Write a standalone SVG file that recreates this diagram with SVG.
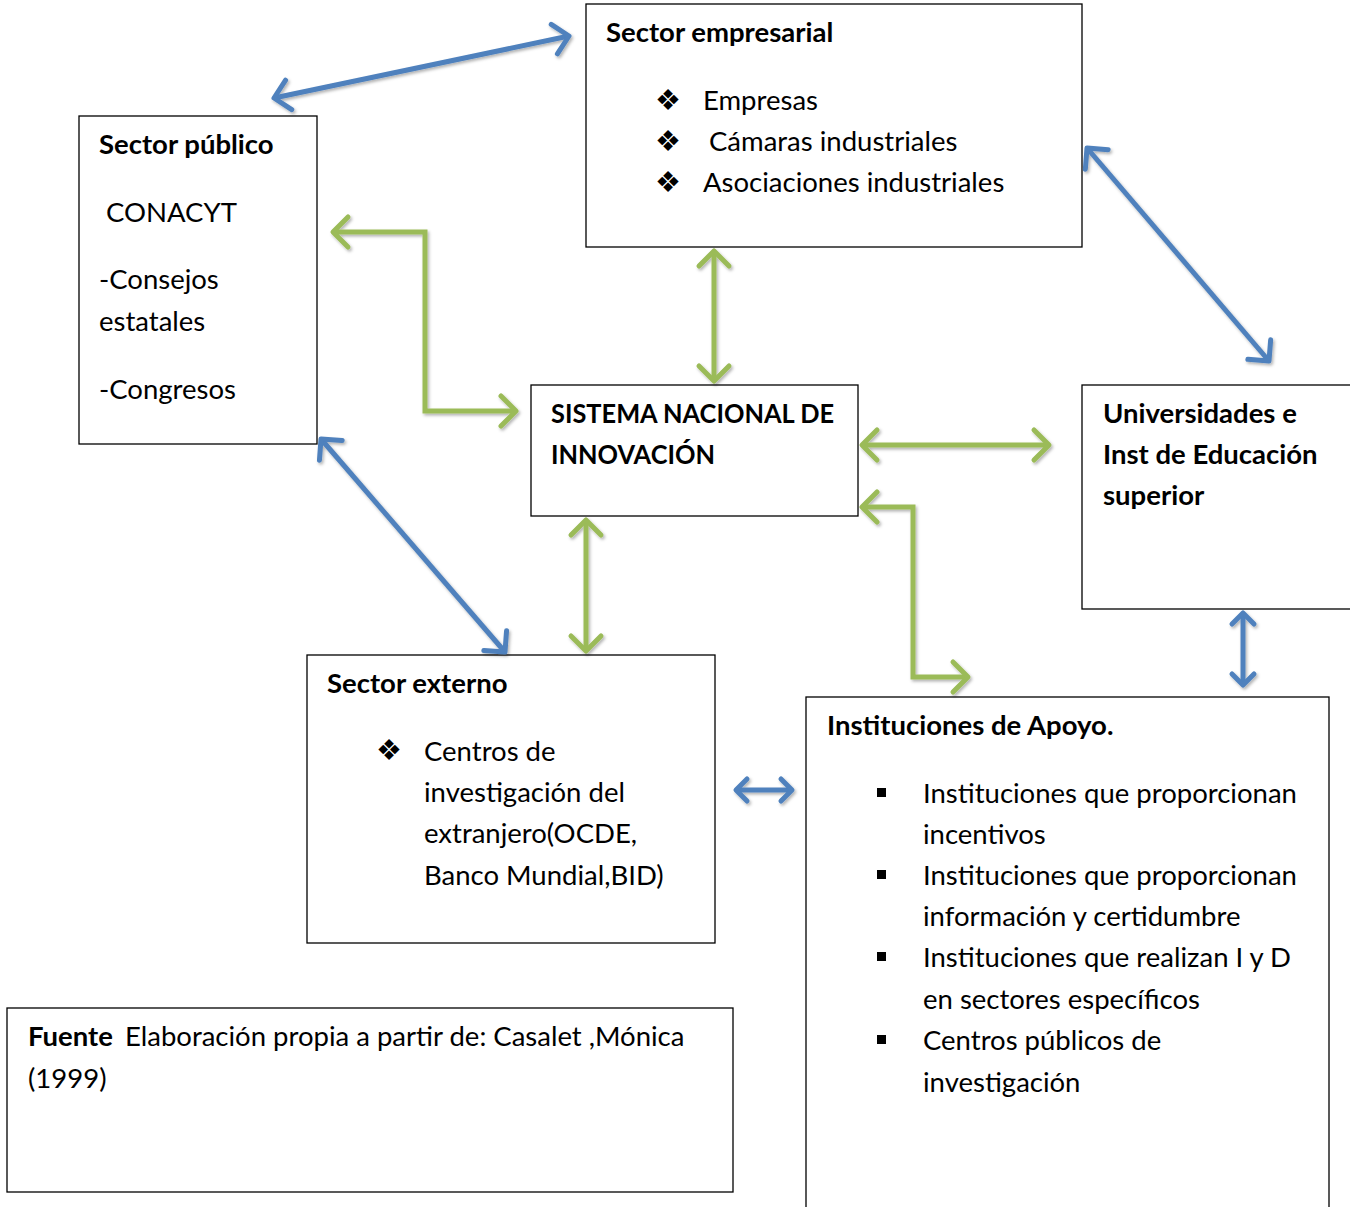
<svg xmlns="http://www.w3.org/2000/svg" width="1350" height="1207" viewBox="0 0 1350 1207">
<style>
.box{fill:#fff;stroke:#000;stroke-width:1.3}
text{font-family:Lato,"Open Sans","Liberation Sans",sans-serif;font-size:27.5px;fill:#000}
.b{font-weight:bold}
.sym{font-family:"DejaVu Sans",sans-serif;font-size:29px}
.blue{stroke:#4F81BD;stroke-width:5;fill:none;filter:url(#sh)}
.green{stroke:#9BBB59;stroke-width:5;fill:none;filter:url(#sh)}
</style>
<defs>
<filter id="sh" filterUnits="userSpaceOnUse" x="0" y="0" width="1350" height="1207">
<feDropShadow dx="1.5" dy="2" stdDeviation="1.5" flood-color="#000" flood-opacity="0.3"/>
</filter>
<marker id="hb" viewBox="-20 -20 24 40" markerWidth="24" markerHeight="40" refX="0" refY="0" markerUnits="userSpaceOnUse" orient="auto-start-reverse">
<path d="M-15,-15 L0,0 L-15,15" fill="none" stroke="#4F81BD" stroke-width="5" stroke-linecap="round" stroke-linejoin="round"/>
</marker>
<marker id="hbs" viewBox="-20 -20 24 40" markerWidth="24" markerHeight="40" refX="0" refY="0" markerUnits="userSpaceOnUse" orient="auto-start-reverse">
<path d="M-11,-11 L0,0 L-11,11" fill="none" stroke="#4F81BD" stroke-width="5" stroke-linecap="round" stroke-linejoin="round"/>
</marker>
<marker id="hg" viewBox="-20 -20 24 40" markerWidth="24" markerHeight="40" refX="0" refY="0" markerUnits="userSpaceOnUse" orient="auto-start-reverse">
<path d="M-15,-15 L0,0 L-15,15" fill="none" stroke="#9BBB59" stroke-width="5" stroke-linecap="round" stroke-linejoin="round"/>
</marker>
</defs>
<rect width="1350" height="1207" fill="#fff"/>

<g id="sector-empresarial">
<rect class="box" x="586" y="4" width="496" height="243"/>
<text class="b" x="606" y="42">Sector empresarial</text>
<text class="sym" x="655" y="110">❖</text>
<text x="703" y="110">Empresas</text>
<text class="sym" x="655" y="151">❖</text>
<text x="709" y="151">Cámaras industriales</text>
<text class="sym" x="655" y="192">❖</text>
<text x="703" y="192">Asociaciones industriales</text>
</g>

<g id="sector-publico">
<rect class="box" x="79" y="116" width="238" height="328"/>
<text class="b" x="99" y="154">Sector público</text>
<text x="106" y="222">CONACYT</text>
<text x="99" y="289">-Consejos</text>
<text x="99" y="331">estatales</text>
<text x="99" y="399">-Congresos</text>
</g>

<g id="sistema-nacional">
<rect class="box" x="531" y="385" width="327" height="131"/>
<text class="b" x="551" y="423" textLength="283" lengthAdjust="spacingAndGlyphs">SISTEMA NACIONAL DE</text>
<text class="b" x="551" y="464" textLength="164" lengthAdjust="spacingAndGlyphs">INNOVACIÓN</text>
</g>

<g id="universidades">
<rect class="box" x="1082" y="385" width="275" height="224"/>
<text class="b" x="1103" y="423">Universidades e</text>
<text class="b" x="1103" y="464">Inst de Educación</text>
<text class="b" x="1103" y="505">superior</text>
</g>

<g id="sector-externo">
<rect class="box" x="307" y="655" width="408" height="288"/>
<text class="b" x="327" y="693">Sector externo</text>
<text class="sym" x="376" y="760">❖</text>
<text x="424" y="761">Centros de</text>
<text x="424" y="802">investigación del</text>
<text x="424" y="843">extranjero(OCDE,</text>
<text x="424" y="885">Banco Mundial,BID)</text>
</g>

<g id="instituciones-apoyo">
<rect class="box" x="806" y="697" width="523" height="520"/>
<text class="b" x="827" y="735">Instituciones de Apoyo.</text>
<rect x="877" y="788" width="9" height="9"/>
<text x="923" y="803">Instituciones que proporcionan</text>
<text x="923" y="844">incentivos</text>
<rect x="877" y="870" width="9" height="9"/>
<text x="923" y="885">Instituciones que proporcionan</text>
<text x="923" y="926">información y certidumbre</text>
<rect x="877" y="952" width="9" height="9"/>
<text x="923" y="967">Instituciones que realizan I y D</text>
<text x="923" y="1009">en sectores específicos</text>
<rect x="877" y="1035" width="9" height="9"/>
<text x="923" y="1050">Centros públicos de</text>
<text x="923" y="1092">investigación</text>
</g>

<g id="fuente">
<rect class="box" x="7" y="1008" width="726" height="184"/>
<text x="28" y="1046"><tspan class="b">Fuente</tspan><tspan x="125">Elaboración propia a partir de: Casalet ,Mónica</tspan></text>
<text x="28" y="1088">(1999)</text>
</g>

<g id="connectors">
<line class="blue" x1="274" y1="98" x2="569" y2="36" marker-start="url(#hb)" marker-end="url(#hb)"/>
<polyline class="green" points="333,232 425,232 425,411 516,411" marker-start="url(#hg)" marker-end="url(#hg)"/>
<line class="green" x1="714" y1="251" x2="714" y2="381" marker-start="url(#hg)" marker-end="url(#hg)"/>
<line class="blue" x1="1087" y1="148" x2="1269" y2="361" marker-start="url(#hb)" marker-end="url(#hb)"/>
<line class="green" x1="862" y1="445" x2="1049" y2="445" marker-start="url(#hg)" marker-end="url(#hg)"/>
<polyline class="green" points="862,507 913,507 913,677 968,677" marker-start="url(#hg)" marker-end="url(#hg)"/>
<line class="green" x1="586" y1="520" x2="586" y2="651" marker-start="url(#hg)" marker-end="url(#hg)"/>
<line class="blue" x1="321" y1="439" x2="505" y2="652" marker-start="url(#hb)" marker-end="url(#hb)"/>
<line class="blue" x1="736" y1="790" x2="792" y2="790" marker-start="url(#hbs)" marker-end="url(#hbs)"/>
<line class="blue" x1="1243" y1="613" x2="1243" y2="685" marker-start="url(#hbs)" marker-end="url(#hbs)"/>
</g>
</svg>
